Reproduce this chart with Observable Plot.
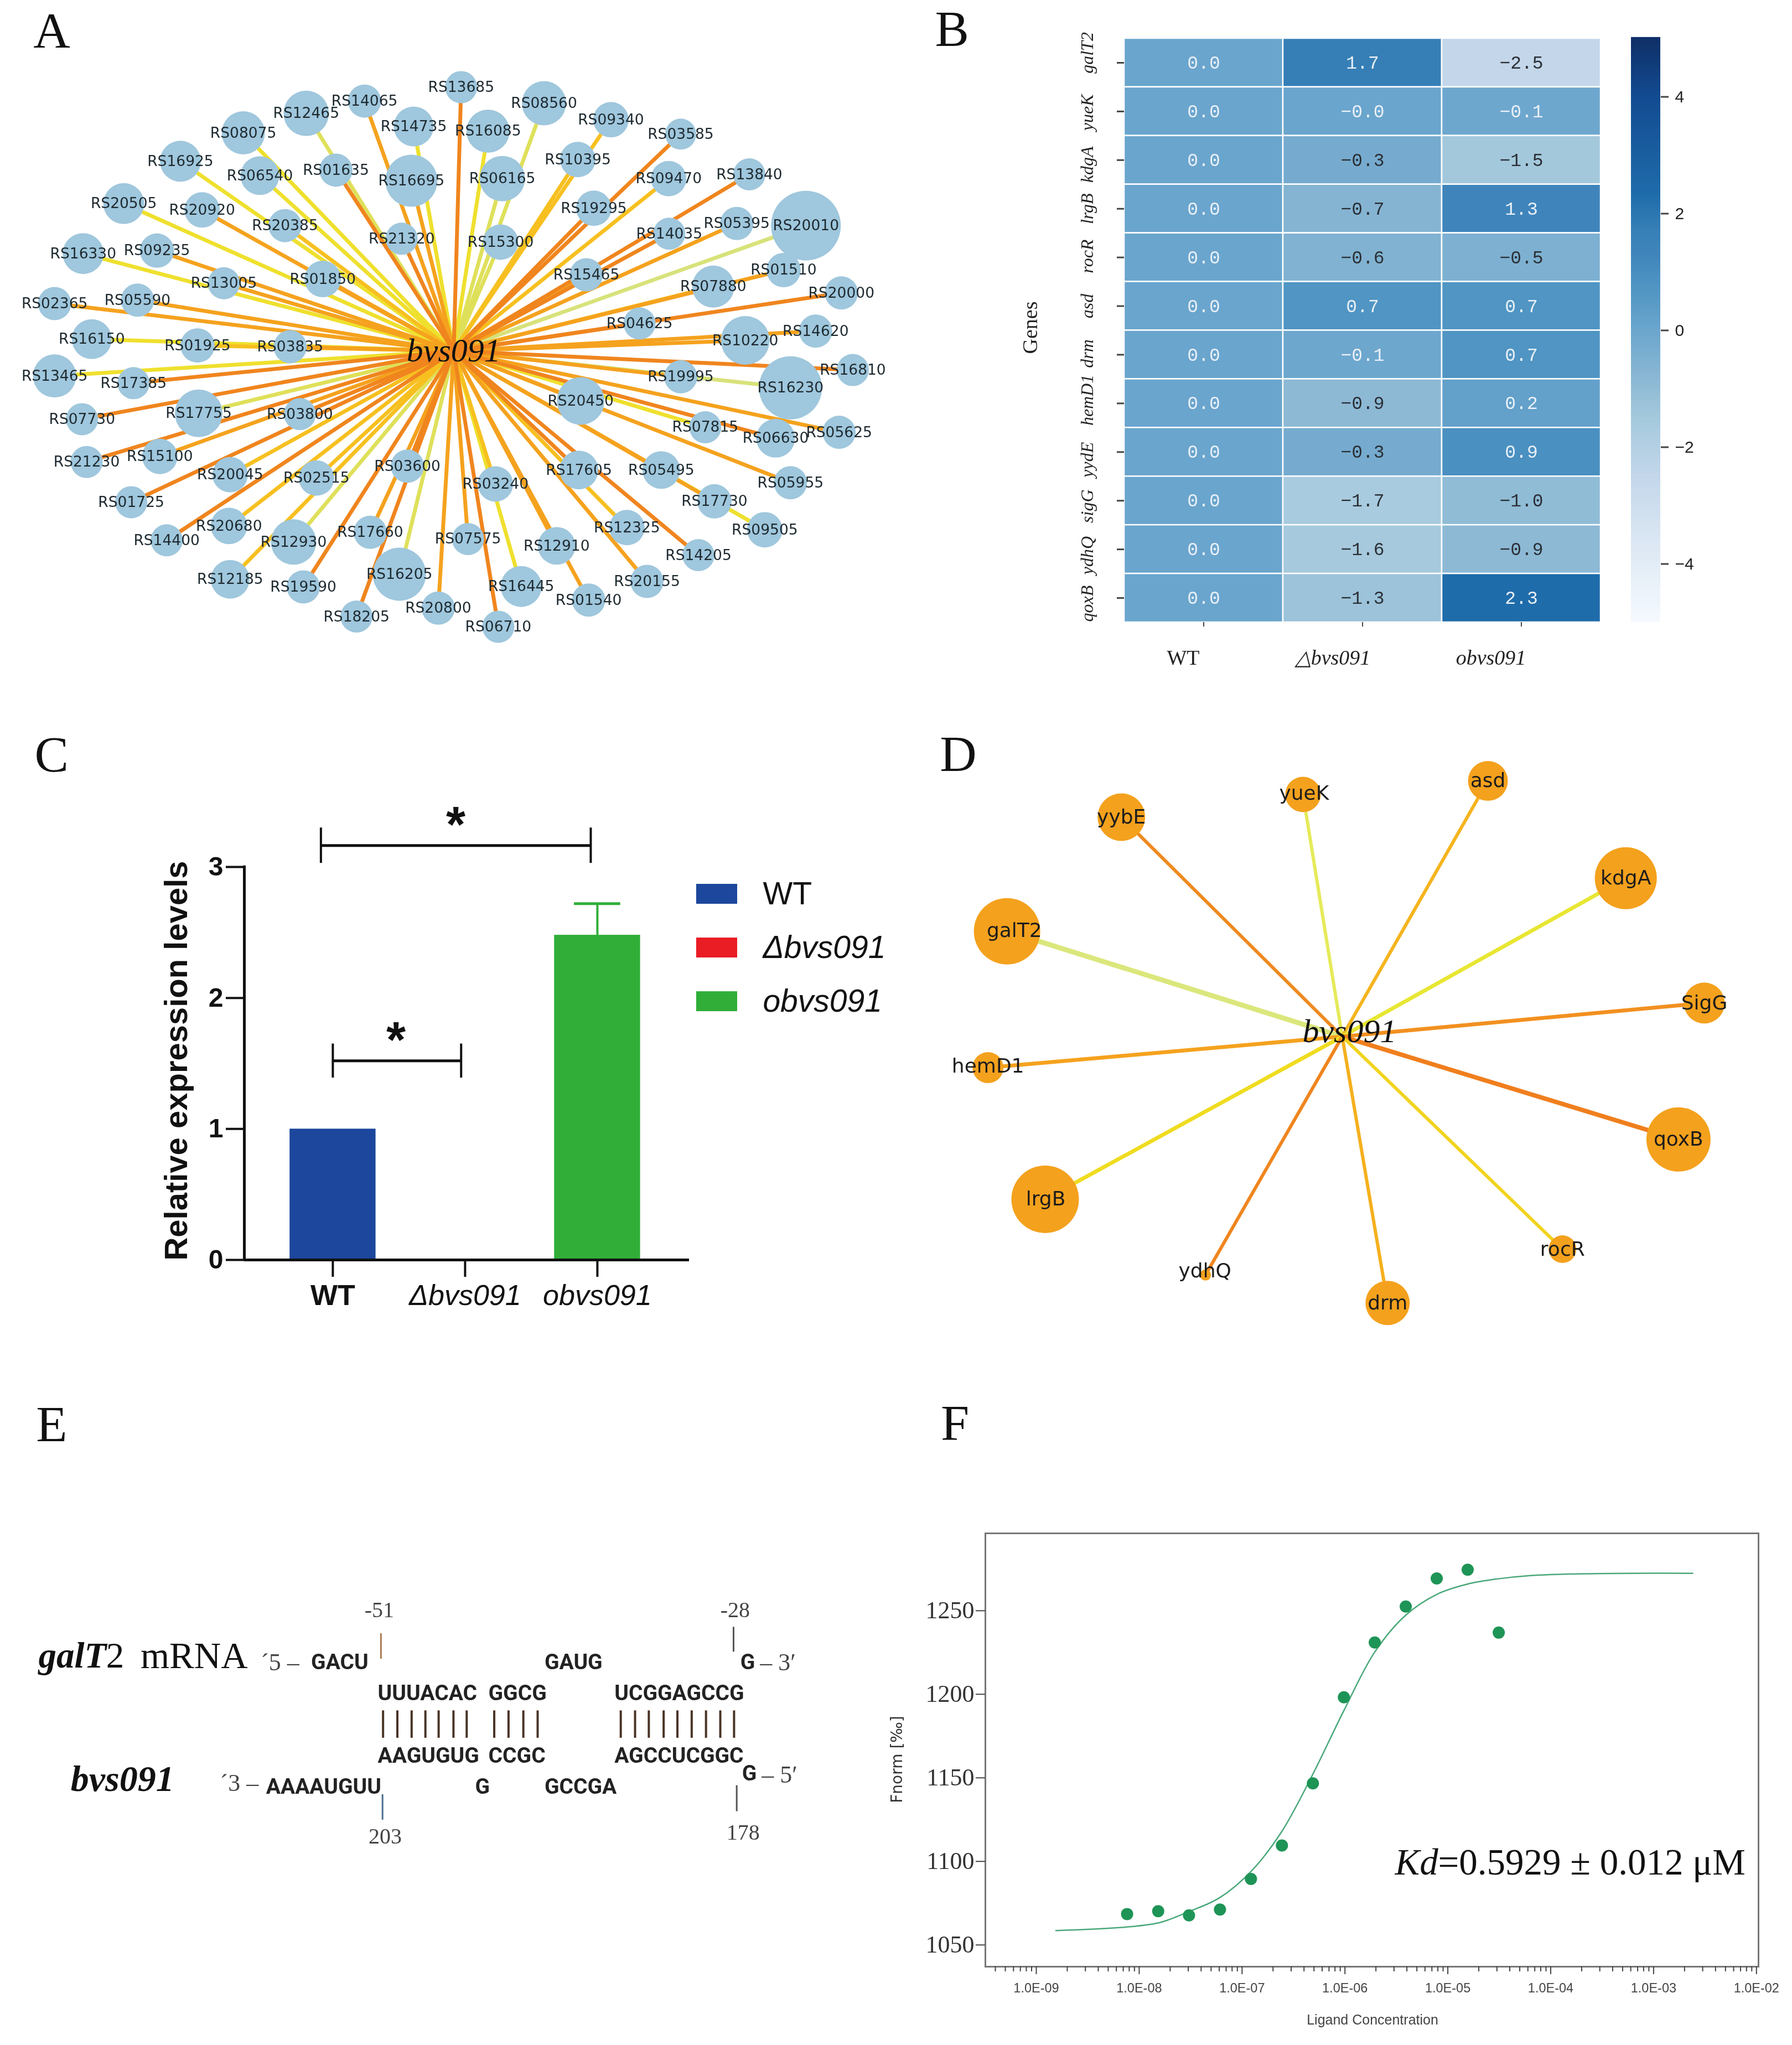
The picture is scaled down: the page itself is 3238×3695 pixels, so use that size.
<!DOCTYPE html>
<html><head><meta charset="utf-8">
<style>
html,body{margin:0;padding:0;background:#fff}
#page{position:relative;width:3238px;height:3695px;overflow:hidden;background:#fff;filter:blur(0.7px)}
#page svg{position:absolute;overflow:visible;background:transparent}
</style>
<script src="https://cdn.jsdelivr.net/npm/d3@7"></script>
<script src="https://cdn.jsdelivr.net/npm/@observablehq/plot@0.6"></script>
</head><body><div id="page"></div>
<script>
// ---------- Panel A : regulatory network (layout) ----------
const nodeNames = "RS13685 RS14065 RS12465 RS08560 RS14735 RS16085 RS09340 RS03585 RS08075 RS16925 RS06540 RS01635 RS16695 RS06165 RS10395 RS09470 RS13840 RS20505 RS20920 RS20385 RS21320 RS15300 RS19295 RS14035 RS05395 RS20010 RS16330 RS09235 RS13005 RS01850 RS15465 RS07880 RS01510 RS02365 RS05590 RS20000 RS04625 RS03835 RS01925 RS16150 RS10220 RS14620 RS16810 RS13465 RS17385 RS19995 RS16230 RS20450 RS07730 RS17755 RS03800 RS07815 RS06630 RS05625 RS21230 RS15100 RS20045 RS02515 RS03600 RS03240 RS17605 RS05495 RS05955 RS01725 RS17730 RS09505 RS20680 RS14400 RS12930 RS17660 RS07575 RS12910 RS12325 RS14205 RS20155 RS12185 RS19590 RS16205 RS16445 RS01540 RS20800 RS18205 RS06710".split(" ");
const nodeX = [806,637,535,951,723,853,1068,1190,425,315,454,587,719,878,1010,1169,1310,216,353,498,702,875,1038,1170,1288,1409,145,274,391,564,1025,1247,1370,95,240,1471,1118,507,345,160,1303,1426,1491,95,233,1190,1382,1015,143,347,524,1233,1356,1467,151,279,402,553,712,866,1012,1156,1382,229,1249,1337,400,291,513,647,818,973,1096,1221,1131,402,530,698,911,1029,766,623,871];
const nodeY = [205,238,267,243,298,309,282,316,313,380,414,401,426,421,376,421,411,480,495,532,563,571,491,551,527,532,598,591,668,658,648,676,637,716,708,691,763,818,815,800,803,781,873,887,904,889,915,946,989,975,977,1008,1034,1020,1090,1077,1120,1128,1100,1142,1109,1109,1139,1185,1183,1250,1241,1275,1279,1256,1272,1288,1245,1310,1372,1367,1385,1355,1384,1416,1435,1455,1479];
const nodeR = [29,30,41,40,36,39,32,28,39,37,35,30,47,41,32,32,29,37,32,30,29,32,32,29,30,63,37,31,29,33,30,38,31,30,30,30,29,30,31,36,44,30,29,39,29,30,57,43,29,43,29,29,35,30,29,32,32,32,30,32,35,34,30,29,31,32,33,29,41,30,29,34,32,29,30,35,30,48,37,30,30,29,29];
const nodeEdge = "a b g g e e c a e e e a b g c c a e b c a g a a b h e b b b b c b b b a a b c e b b a e a b h b a g a e a b a b c c a c a b b a b e c a g b b b c a b c a g e b b a a".split(" ");
const edgeColor = {a:"#f0851e",b:"#f5a21e",c:"#f7c020",e:"#efe02e",g:"#dfe05a",h:"#d8e27a"};
const edgeOrder = "hgecba";
const hubA = [793,828];
const nodeFill = "#9fc7dd";

// ---------- Panel B : heat map ----------
const genes = ["galT2","yueK","kdgA","lrgB","rocR","asd","drm","hemD1","yydE","sigG","ydhQ","qoxB"];
const strains = ["WT","△bvs091","obvs091"];
const valWT = [0,0,0,0,0,0,0,0,0,0,0,0];
const valKO = [1.7,-0.0001,-0.3,-0.7,-0.6,0.7,-0.1,-0.9,-0.3,-1.7,-1.6,-1.3];
const valOE = [-2.5,-0.1,-1.5,1.3,-0.5,0.7,0.7,0.2,0.9,-1.0,-0.9,2.3];
const geneLabelShift = [-18,2,8,0,-2,0,-2,-6,14,10,11,10];
const strainLabelShift = [-37,-54,-55];
const colorStops = [-5,-4,-2.5,-1.5,-0.7,0,0.7,1.3,1.7,2.3,4,5];
const colorRange = ["#f5f9fe","#e2ecf6","#c3d6ea","#a3c8dc","#85b4d2","#6aa5cd","#5095c3","#3f85bc","#367fb6","#1f6cab","#124a90","#0f2f66"];

// ---------- Panel C : bars ----------
const barNames = ["WT","Δbvs091","obvs091"];
const barValues = [1,0,2.48];
const barColors = ["#1c479c","#ea1c24","#30ae38"];
const barErrorTop = 2.72;

// ---------- Panel D : target network ----------
const targetNames = ["yybE","yueK","asd","kdgA","galT2","SigG","hemD1","qoxB","lrgB","ydhQ","drm","rocR"];
const targetX = [371,695,1025,1271,167,1411,133,1365,235,521,846,1158];
const targetY = [272,215,181,425,558,738,900,1080,1230,1420,1490,1355];
const targetR = [43,32,36,56,60,37,28,58,61,10,40,25];
const targetLabelX = [371,697,1025,1271,180,1411,133,1365,236,520,846,1158];
const targetLabelY = [272,212,181,425,557,738,897,1080,1230,1410,1490,1355];
const targetEdge = ["#ee8a20","#e6ea5a","#f5b41e","#e8e632","#dbe77c","#f29020","#f5a21e","#f07f1e","#efdc20","#f0851e","#f5b01e","#f2d31e"];
const targetWidth = [6,6,6,7,9,7,7,8,7,6,6,6];
const hubD = [765,822];

// ---------- Panel E : base pairing ----------
const seqText = ["GACU","GAUG","G","UUUACAC","GGCG","UCGGAGCCG","AAGUGUG","CCGC","AGCCUCGGC","AAAAUGUU","G","GCCGA","G"];
const seqX = [587,1028,1398,713,922,1160,713,922,1160,502,897,1028,1401];
const seqY = [947,947,947,1057,1057,1057,1277,1277,1277,1388,1388,1388,1340];
const pairX = [723,750,777,803,828,856,881,933,960,988,1015,1172,1199,1225,1253,1279,1306,1333,1360,1386];
const endText = ["´5 –","– 3′","´3 –","– 5′"];
const endX = [492,1435,415,1438];
const endY = [947,947,1375,1345];
const stemX = [719,1385,722,1391];
const stemTop = [845,822,1415,1383];
const stemBottom = [935,910,1505,1475];
const stemColor = ["#a9794f","#555555","#4a6f8f","#555555"];
const posText = ["-51","-28","203","178"];
const posX = [716,1388,727,1403];
const posY = [762,762,1564,1550];

// ---------- Panel F : binding curve ----------
const concPoints = [7.63e-9,1.53e-8,3.05e-8,6.1e-8,1.22e-7,2.44e-7,4.88e-7,9.77e-7,1.95e-6,3.9e-6,7.8e-6,1.56e-5,3.125e-5];
const fnormPoints = [1068.5,1070.2,1067.7,1071.2,1089.5,1109.5,1146.7,1198.2,1231,1252.5,1269.3,1274.5,1236.9];
const curveExp = [-8.81,-8.38,-8.09,-7.8,-7.52,-7.22,-6.91,-6.62,-6.32,-6.01,-5.71,-5.41,-5.11,-4.81,-4.51,-4.21,-3.77,-3.19,-2.62];
const curveFnorm = [1058.6,1059.7,1060.9,1063.4,1069.9,1078.2,1094.2,1117.3,1151.2,1190.3,1225.3,1247.3,1259.7,1265.9,1269.1,1271,1272,1272.4,1272.4];
const decades = [-9,-8,-7,-6,-5,-4,-3,-2];
const fnormTicks = [1050,1100,1150,1200,1250];

// ---------- helpers ----------
const page = document.getElementById("page");
const SERIF = "Liberation Serif", SANS = "Liberation Sans", DJ = "DejaVu Sans";
function mount(plot, left, top){ plot.style.left = left+"px"; plot.style.top = top+"px"; page.appendChild(plot); }
const idx = a => d3.range(a.length);
const letter = (t,x,y) => Plot.text([t],{x:()=>x,y:()=>y,text:d=>d,fontFamily:SERIF,fontSize:92,fill:"#111"});
const axisOff = (w,h,zx,zy)=>({width:w,height:h,margin:0,style:{background:"transparent",overflow:"visible"},
  x:{domain:[0,zx],range:[0,w],axis:null},y:{domain:[0,zy],range:[0,h],axis:null},color:{type:"identity"}});

// ---------- A ----------
const iA = idx(nodeNames);
const iAEdges = iA.slice().sort((p,q)=>edgeOrder.indexOf(nodeEdge[p])-edgeOrder.indexOf(nodeEdge[q]));
mount(Plot.plot({...axisOff(1620,1200,1568,1568),marks:[
  Plot.link(iAEdges,{x1:()=>hubA[0],y1:()=>hubA[1],x2:i=>nodeX[i],y2:i=>nodeY[i],stroke:i=>edgeColor[nodeEdge[i]],strokeWidth:7}),
  Plot.dot(iA,{x:i=>nodeX[i],y:i=>nodeY[i],r:i=>nodeR[i],fill:nodeFill,stroke:"none"}),
  Plot.text(iA,{x:i=>nodeX[i],y:i=>nodeY[i],text:i=>nodeNames[i],fontFamily:DJ,fontSize:26.5,fill:"#1e2a30"}),
  Plot.text(["bvs091"],{x:()=>hubA[0],y:()=>hubA[1],text:d=>d,fontFamily:SERIF,fontStyle:"italic",fontSize:60,fill:"#111"}),
  letter("A",90,73)
],r:{type:"identity"}}),0,0);

// ---------- B ----------
const cells = genes.flatMap((g,i)=>[
  {g,s:strains[0],v:valWT[i]},{g,s:strains[1],v:valKO[i]},{g,s:strains[2],v:valOE[i]}]);
const fmt = v => (v<0?"−":"")+Math.abs(v).toFixed(1);
const cellFont = {x:"s",y:"g",text:d=>fmt(d.v),fontFamily:"Liberation Mono",fontSize:33};
const heatColor = {type:"linear",domain:colorStops,range:colorRange};
mount(Plot.plot({width:1588,height:1230,marginLeft:381,marginRight:346,marginTop:69,marginBottom:106,
  style:{background:"transparent",overflow:"visible"},
  x:{domain:strains,padding:0,round:false,axis:null},y:{domain:genes,padding:0,round:false,axis:null},color:heatColor,
  marks:[
    Plot.cell(cells,{x:"s",y:"g",fill:"v",stroke:"#fff",strokeWidth:2.5}),
    Plot.text(cells.filter(d=>d.v>-0.25),{...cellFont,fill:"#e9f0f7"}),
    Plot.text(cells.filter(d=>d.v<=-0.25),{...cellFont,fill:"#2a2f35"}),
    Plot.axisX({anchor:"bottom",tickSize:8,fill:"none",label:null,stroke:"#444",strokeWidth:2}),
    Plot.axisY({anchor:"left",tickSize:13,fill:"none",label:null,stroke:"#444",strokeWidth:3}),
    ...genes.map((g,i)=>Plot.text([g],{y:d=>d,text:d=>d,frameAnchor:"left",textAnchor:"middle",dx:-67,dy:geneLabelShift[i],rotate:-90,fontFamily:SERIF,fontStyle:"italic",fontSize:32,fill:"#222"})),
    ...strains.map((s,i)=>Plot.text([s],{x:d=>d,text:d=>d,frameAnchor:"bottom",dy:76,dx:strainLabelShift[i],fontFamily:SERIF,fontStyle:i?"italic":"normal",fontSize:38,fill:"#222"})),
    Plot.text(["Genes"],{text:d=>d,frameAnchor:"left",textAnchor:"middle",dx:-170,rotate:-90,dy:-5,fontFamily:SERIF,fontSize:38,fill:"#222"}),
    Plot.text(["B"],{text:d=>d,frameAnchor:"top-left",dx:-342,dy:-52,fontFamily:SERIF,fontSize:92,fill:"#111",lineAnchor:"top"})
  ]}),1650,0);
// colour bar
const bands = d3.range(-5,5,0.05);
mount(Plot.plot({width:200,height:1065,marginLeft:0,marginRight:147,marginTop:5,marginBottom:5,
  style:{background:"transparent",overflow:"visible"},
  x:{domain:[0,1],axis:null},y:{domain:[-5,5],axis:null},color:heatColor,
  marks:[
    Plot.rect(bands,{x1:()=>0,x2:()=>1,y1:d=>d,y2:d=>d+0.07,fill:d=>d}),
    Plot.axisY({anchor:"right",ticks:[-4,-2,0,2,4],tickSize:14,tickPadding:12,label:null,fontFamily:SANS,fontSize:30,stroke:"#444",strokeWidth:3,fill:"#222"})
  ]}),2947,64);

// ---------- C ----------
const iC = idx(barNames);
const cLabel = (t,x,o)=>Plot.text([t],{x:()=>x,y:()=>0,text:d=>d,dy:65,fontFamily:SANS,fontSize:52,fill:"#111",...o});
const bracket = (a,b,y,h)=>[
  Plot.ruleY([y],{x1:()=>a,x2:()=>b,y:d=>d,stroke:"#111",strokeWidth:5}),
  Plot.ruleX([a,b],{x:d=>d,y1:()=>y-h,y2:()=>y+h,stroke:"#111",strokeWidth:4})];
const star = (x,y)=>Plot.text(["*"],{x:()=>x,y:()=>y,text:d=>d,fontFamily:SANS,fontWeight:"bold",fontSize:90,fill:"#111"});
const legendY = [2.793,2.383,1.973];
mount(Plot.plot({width:1640,height:1130,marginLeft:441,marginRight:395,marginTop:286,marginBottom:134,
  style:{background:"transparent",overflow:"visible"},
  x:{domain:[-0.669,2.695],axis:null},y:{domain:[0,3],axis:null},color:{type:"identity"},
  marks:[
    Plot.rectY(iC,{x1:i=>i-0.325,x2:i=>i+0.325,y1:()=>0,y2:i=>barValues[i],fill:i=>barColors[i]}),
    Plot.ruleX([2],{x:d=>d,y1:()=>barValues[2],y2:()=>barErrorTop,stroke:barColors[2],strokeWidth:4}),
    Plot.ruleY([barErrorTop],{y:d=>d,x1:()=>1.825,x2:()=>2.175,stroke:barColors[2],strokeWidth:5}),
    Plot.ruleX([-0.669],{x:d=>d,y1:()=>0,y2:()=>3.01,stroke:"#111",strokeWidth:5}),
    Plot.ruleY([0],{y:d=>d,x1:()=>-0.669,x2:()=>2.695,stroke:"#111",strokeWidth:5}),
    Plot.axisY({anchor:"left",ticks:[0,1,2,3],tickSize:33,tickPadding:5,label:null,tickFormat:d=>String(d),fontFamily:SANS,fontWeight:"bold",fontSize:48,stroke:"#111",strokeWidth:4,fill:"#111"}),
    Plot.axisX({anchor:"bottom",ticks:[0,1,2],tickSize:31,fill:"none",label:null,stroke:"#111",strokeWidth:4}),
    cLabel(barNames[0],0,{fontWeight:"bold"}),
    cLabel(barNames[1],1,{fontStyle:"italic"}),
    cLabel(barNames[2],2,{fontStyle:"italic"}),
    Plot.text(["Relative expression levels"],{text:d=>d,frameAnchor:"left",textAnchor:"middle",dx:-122,dy:-5,rotate:-90,fontFamily:SANS,fontWeight:"bold",fontSize:58,fill:"#111"}),
    ...bracket(-0.09,1.95,3.164,0.135),
    ...bracket(0,0.97,1.52,0.13),
    star(0.929,3.313),star(0.477,1.669),
    Plot.rect(iC,{x1:()=>2.749,x2:()=>3.059,y1:i=>legendY[i]-0.076,y2:i=>legendY[i]+0.076,fill:i=>barColors[i]}),
    Plot.text(iC.slice(1),{x:()=>3.251,y:i=>legendY[i],text:i=>barNames[i],textAnchor:"start",fontFamily:SANS,fontStyle:"italic",fontSize:57,fill:"#111"}),
    Plot.text(["WT"],{x:()=>3.251,y:()=>legendY[0],text:d=>d,textAnchor:"start",fontFamily:SANS,fontSize:57,fill:"#111"}),
    Plot.text(["C"],{text:d=>d,frameAnchor:"top-left",dx:-379,dy:-238,lineAnchor:"top",fontFamily:SERIF,fontSize:92,fill:"#111"})
  ]}),0,1280);

// ---------- D ----------
const iD = idx(targetNames);
mount(Plot.plot({...axisOff(1588,1130,1568,1568),marks:[
  Plot.link(iD,{x1:()=>hubD[0],y1:()=>hubD[1],x2:i=>targetX[i],y2:i=>targetY[i],stroke:i=>targetEdge[i],strokeWidth:i=>targetWidth[i]}),
  Plot.dot(iD,{x:i=>targetX[i],y:i=>targetY[i],r:i=>targetR[i],fill:"#f4a11d",stroke:"none"}),
  Plot.text(iD,{x:i=>targetLabelX[i],y:i=>targetLabelY[i],text:i=>targetNames[i],fontFamily:DJ,fontSize:36,fill:"#1c1c1c"}),
  Plot.text(["bvs091"],{x:()=>778,y:()=>810,text:d=>d,fontFamily:SERIF,fontStyle:"italic",fontSize:60,fill:"#111"}),
  letter("D",80,115)
],r:{type:"identity"}}),1650,1280);

// ---------- E ----------
mount(Plot.plot({...axisOff(1500,900,1568,1764),marks:[
  Plot.ruleX(pairX,{x:d=>d,y1:()=>1118,y2:()=>1215,stroke:"#4a3426",strokeWidth:4}),
  Plot.ruleX(idx(stemX),{x:i=>stemX[i],y1:i=>stemTop[i],y2:i=>stemBottom[i],stroke:i=>stemColor[i],strokeWidth:3}),
  Plot.text(idx(seqText),{x:i=>seqX[i],y:i=>seqY[i],text:i=>seqText[i],textAnchor:"start",fontFamily:"Liberation Sans Narrow, Roboto",fontWeight:"bold",fontSize:39,fill:"#222"}),
  Plot.text(idx(endText),{x:i=>endX[i],y:i=>endY[i],text:i=>endText[i],textAnchor:"start",fontFamily:SERIF,fontSize:44,fill:"#444"}),
  Plot.text(idx(posText),{x:i=>posX[i],y:i=>posY[i],text:i=>posText[i],fontFamily:SERIF,fontSize:40,fill:"#444"}),
  Plot.text(["galT"],{x:()=>72,y:()=>925,text:d=>d,textAnchor:"start",fontFamily:SERIF,fontStyle:"italic",fontWeight:"bold",fontSize:65,fill:"#111"}),
  Plot.text(["2"],{x:()=>200,y:()=>925,text:d=>d,textAnchor:"start",fontFamily:SERIF,fontSize:65,fill:"#111"}),
  Plot.text(["mRNA"],{x:()=>265,y:()=>925,text:d=>d,textAnchor:"start",fontFamily:SERIF,fontSize:67,fill:"#111"}),
  Plot.text(["bvs091"],{x:()=>133,y:()=>1360,text:d=>d,textAnchor:"start",fontFamily:SERIF,fontStyle:"italic",fontWeight:"bold",fontSize:66,fill:"#111"}),
  letter("E",97,105)
]}),0,2520);

// ---------- F ----------
const minorTicks = decades.slice(0,-1).flatMap(e=>[2,3,4,5,6,7,8,9].map(m=>m*10**e)).concat([4,5,6,7,8,9].map(m=>m*1e-10));
const iF = idx(concPoints), iCurve = idx(curveExp);
mount(Plot.plot({width:1678,height:975,marginLeft:220,marginRight:61,marginTop:50,marginBottom:142,
  style:{background:"transparent",overflow:"visible"},
  x:{type:"log",domain:[10**-9.495,10**-1.98],axis:null},y:{domain:[1037,1296.3],axis:null},color:{type:"identity"},
  marks:[
    Plot.frame({stroke:"#777",strokeWidth:3}),
    Plot.line(iCurve,{x:i=>10**curveExp[i],y:i=>curveFnorm[i],curve:"catmull-rom",stroke:"#4aa87a",strokeWidth:2.5}),
    Plot.dot(iF,{x:i=>concPoints[i],y:i=>fnormPoints[i],r:11,fill:"#1e9456",stroke:"none"}),
    Plot.axisY({anchor:"left",ticks:fnormTicks,tickFormat:d=>String(d),tickSize:17,tickPadding:3,label:null,fontFamily:SERIF,fontSize:44,stroke:"#444",strokeWidth:2,fill:"#333"}),
    Plot.axisX({anchor:"bottom",ticks:decades.map(e=>10**e),tickFormat:d=>"1.0E-0"+Math.round(-Math.log10(d)),tickSize:14,tickPadding:16,label:null,fontFamily:SANS,fontSize:23.5,stroke:"#444",strokeWidth:2,fill:"#444"}),
    Plot.axisX({anchor:"bottom",ticks:minorTicks,fill:"none",tickSize:9,label:null,stroke:"#444",strokeWidth:2}),
    Plot.text(["Fnorm [‰]"],{text:d=>d,frameAnchor:"left",textAnchor:"middle",dx:-159,dy:17,rotate:-90,fontFamily:DJ,fontSize:28,fill:"#333"}),
    Plot.text(["Ligand Concentration"],{text:d=>d,frameAnchor:"bottom",dx:1,dy:104,fontFamily:SANS,fontSize:25,fill:"#444"}),
    Plot.text(["Kd"],{text:d=>d,frameAnchor:"top-left",dx:740,dy:595,textAnchor:"start",lineAnchor:"middle",fontFamily:SERIF,fontStyle:"italic",fontSize:67,fill:"#111"}),
    Plot.text(["=0.5929 ± 0.012 μM"],{text:d=>d,frameAnchor:"top-left",dx:818,dy:595,textAnchor:"start",lineAnchor:"middle",fontFamily:SERIF,fontSize:67,fill:"#111"}),
    Plot.text(["F"],{text:d=>d,frameAnchor:"top-left",dx:-55,dy:-198,lineAnchor:"middle",textAnchor:"middle",fontFamily:SERIF,fontSize:92,fill:"#111"})
  ]}),1560,2720);
</script></body></html>
